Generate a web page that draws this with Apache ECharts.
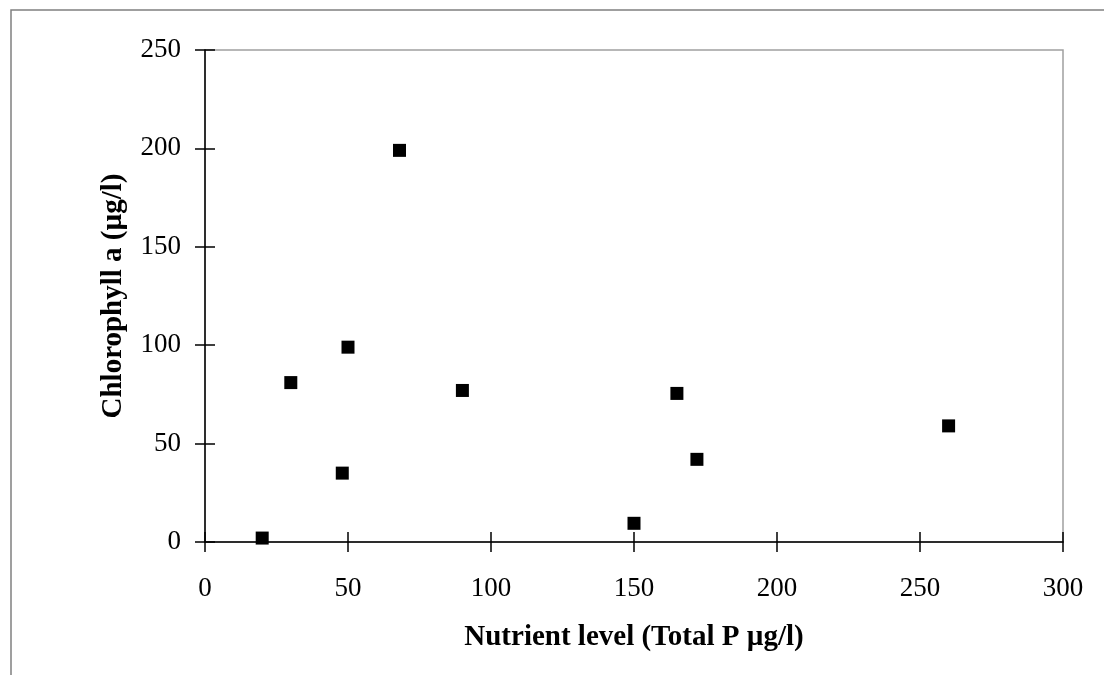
<!DOCTYPE html>
<html>
<head>
<meta charset="utf-8">
<script src="https://cdn.jsdelivr.net/npm/echarts@6/dist/echarts.min.js"></script>
<style>
  html, body { margin: 0; padding: 0; background: #fff; }
  #chart { width: 1104px; height: 675px; }
</style>
</head>
<body>
<div id="chart"></div>
<script>
// 数据：总磷 vs 叶绿素a
var totalP = [20, 30, 48, 50, 68, 90, 150, 165, 172, 260];
var chlorophyll = [2, 81, 35, 99, 199, 77, 9.5, 75.5, 42, 59];
var xTicks = [0, 50, 100, 150, 200, 250, 300];
var yTicks = [0, 50, 100, 150, 200, 250];

var points = totalP.map(function(v, i) {
    return [v, chlorophyll[i]];
});

var fontFamily = '"Liberation Serif", "Times New Roman", serif';

var chart = echarts.init(document.getElementById('chart'));

chart.setOption({
    backgroundColor: '#fff',
    animation: false,
    graphic: [{
        //外框
        type: 'rect',
        shape: { x: 11, y: 10, width: 1120, height: 700 },
        style: { fill: 'none', stroke: '#808080', lineWidth: 1.5 },
        silent: true
    }],
    grid: {
        left: 205,
        right: 41,
        top: 50,
        bottom: 133,
        show: true,
        borderColor: '#a0a0a0',
        borderWidth: 1.5
    },
    xAxis: [{
        type: 'value',
        min: xTicks[0],
        max: xTicks[xTicks.length - 1],
        interval: 50,
        name: 'Nutrient level (Total P µg/l)',
        nameLocation: 'middle',
        nameGap: 81,
        nameTextStyle: { fontFamily: fontFamily, fontWeight: 'bold', fontSize: 29, color: '#000' },
        axisLine: { lineStyle: { color: '#000', width: 1.5 } },
        axisTick: { show: true, length: 10, lineStyle: { color: '#000', width: 1.5 } },
        axisLabel: { fontFamily: fontFamily, fontSize: 27, color: '#000', margin: 33 },
        splitLine: { show: false }
    }, {
        //内侧刻度
        type: 'value',
        position: 'bottom',
        min: xTicks[0],
        max: xTicks[xTicks.length - 1],
        interval: 50,
        axisLine: { show: false },
        axisTick: { show: true, inside: true, length: 10, lineStyle: { color: '#000', width: 1.5 } },
        axisLabel: { show: false },
        splitLine: { show: false }
    }],
    yAxis: [{
        type: 'value',
        min: yTicks[0],
        max: yTicks[yTicks.length - 1],
        interval: 50,
        name: 'Chlorophyll a (µg/l)',
        nameLocation: 'middle',
        nameGap: 77,
        nameTextStyle: { fontFamily: fontFamily, fontWeight: 'bold', fontSize: 29, color: '#000' },
        axisLine: { lineStyle: { color: '#000', width: 1.5 } },
        axisTick: { show: true, length: 10, lineStyle: { color: '#000', width: 1.5 } },
        axisLabel: { fontFamily: fontFamily, fontSize: 27, color: '#000', margin: 24 },
        splitLine: { show: false }
    }, {
        type: 'value',
        position: 'left',
        min: yTicks[0],
        max: yTicks[yTicks.length - 1],
        interval: 50,
        axisLine: { show: false },
        axisTick: { show: true, inside: true, length: 10, lineStyle: { color: '#000', width: 1.5 } },
        axisLabel: { show: false },
        splitLine: { show: false }
    }],
    series: [{
        type: 'scatter',
        xAxisIndex: 0,
        yAxisIndex: 0,
        symbol: 'rect',
        symbolSize: 13,
        itemStyle: { color: '#000', opacity: 1 },
        data: points
    }]
});
</script>
</body>
</html>
